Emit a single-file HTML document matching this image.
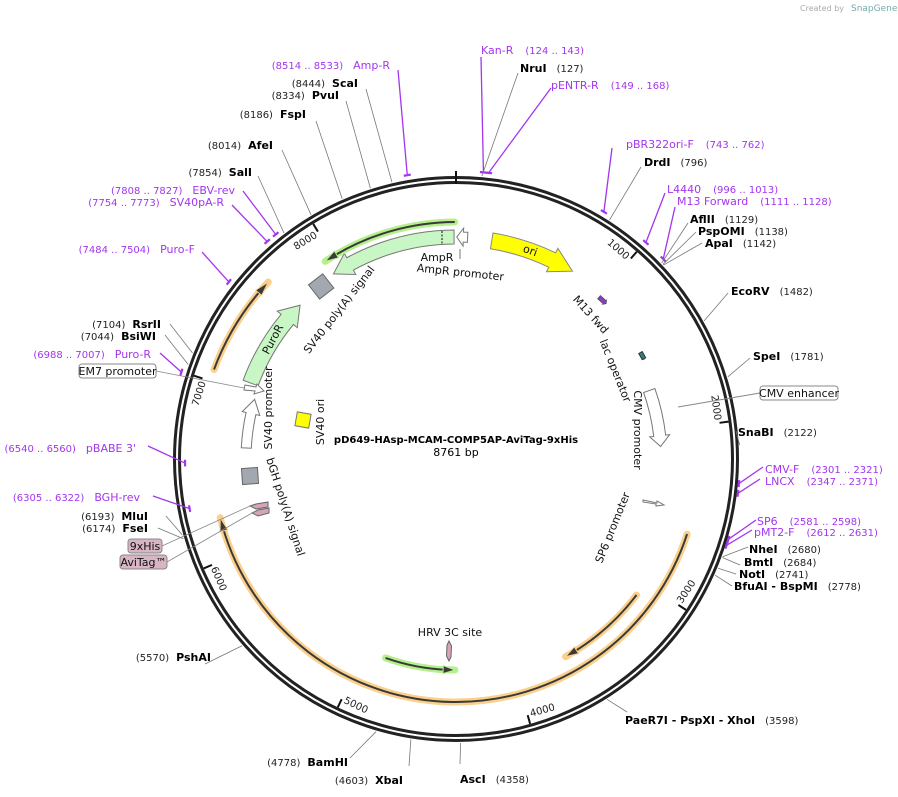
<!DOCTYPE html>
<html><head><meta charset="utf-8"><style>
body{margin:0;background:#fff}
svg{display:block;font-family:"DejaVu Sans","Liberation Sans",sans-serif}
.en{font-weight:bold;font-size:11px;fill:#000}
.nm{font-size:10px;fill:#222}
.pr{font-size:11px;fill:#a335ee}
.pn{font-size:10px;fill:#a335ee}
.ft{font-size:11px;fill:#111}
</style></head><body>
<svg id="s" width="898" height="797" viewBox="0 0 898 797" xmlns="http://www.w3.org/2000/svg">
<text x="800" y="11" font-size="8" fill="#aaa">Created by</text>
<text x="851" y="11" font-size="9" fill="#7aa">SnapGene</text>
<text x="456" y="443" text-anchor="middle" font-size="10" font-weight="bold">pD649-HAsp-MCAM-COMP5AP-AviTag-9xHis</text>
<text x="456" y="456" text-anchor="middle" font-size="11">8761 bp</text>
</svg>
<script>
var S=document.getElementById('s'),NS='http://www.w3.org/2000/svg',CX=456,CY=459;
function el(t,a,txt){var e=document.createElementNS(NS,t);for(var k in a)e.setAttribute(k,a[k]);if(txt!=null)e.textContent=txt;S.appendChild(e);return e;}
function P(d,r){var a=d*Math.PI/180;return [CX+r*Math.sin(a),CY-r*Math.cos(a)];}
function A(p){return p/8761*360;}
function arcD(d1,d2,r){var a=P(d1,r),b=P(d2,r),l=Math.abs(d2-d1)>180?1:0,sw=d2>d1?1:0;return 'M'+a[0]+' '+a[1]+' A'+r+' '+r+' 0 '+l+' '+sw+' '+b[0]+' '+b[1];}
function arcTo(d1,d2,r){var b=P(d2,r),l=Math.abs(d2-d1)>180?1:0,sw=d2>d1?1:0;return ' A'+r+' '+r+' 0 '+l+' '+sw+' '+b[0]+' '+b[1];}
function band(d1,d2,r,w,hw,hl,fill,stroke){
 var dir=d2>d1?1:-1,hb=d2-dir*hl;var a=P(d1,r+w/2);
 var d='M'+a[0]+' '+a[1]+arcTo(d1,hb,r+w/2);var h1=P(hb,r+hw/2),t=P(d2,r),h2=P(hb,r-hw/2),c=P(hb,r-w/2);
 d+=' L'+h1+' L'+t+' L'+h2+' L'+c+arcTo(hb,d1,r-w/2)+'Z';
 el('path',{d:d,fill:fill,stroke:stroke||'#777','stroke-width':1});}
function hl(d1,d2,r,glow){
 var dir=d2>d1?1:-1;el('path',{d:arcD(d1,d2,r),fill:'none',stroke:glow,'stroke-width':7,'stroke-linecap':'round'});
 el('path',{d:arcD(d1,d2-dir*2,r),fill:'none',stroke:'#3a3a3a','stroke-width':2});
 var hb=d2-dir*3.2,a=P(hb,r+4),t=P(d2,r),b=P(hb,r-4);
 el('path',{d:'M'+a+' L'+t+' L'+b+'Z',fill:'#3a3a3a',stroke:glow,'stroke-width':1});}
function rtext(x,y,rot,t,cls,anchor){el('text',{x:0,y:0,'class':cls||'ft','text-anchor':anchor||'middle',transform:'translate('+x+' '+y+') rotate('+rot+')'},t);}
el('circle',{cx:CX,cy:CY,r:281.5,fill:'none',stroke:'#222','stroke-width':3});
el('circle',{cx:CX,cy:CY,r:276.5,fill:'none',stroke:'#222','stroke-width':3});
el('line',{x1:456,y1:171,x2:456,y2:184,stroke:'#111','stroke-width':2});
[1000,2000,3000,4000,5000,6000,7000,8000].forEach(function(p){var d=A(p),a=P(d,275),b=P(d,266);el('line',{x1:a[0],y1:a[1],x2:b[0],y2:b[1],stroke:'#111','stroke-width':2});
 var rot,anc;if(d<90){rot=d;anc='end';}else if(d<270){rot=d-180;anc='start';}else{rot=d-360;anc='end';}
 var q=P(d-0.6,265);
 el('text',{x:0,y:0,dy:'0.35em','class':'nm','text-anchor':anc,transform:'translate('+q[0]+' '+q[1]+') rotate('+rot+')'},''+p);});
band(9.3,31.8,221,16,26,6,'#ffff00','#888');
rtext(529,254,20,'ori','ft');
band(-0.5,-33.5,222,14,24,5,'#c8f7c5','#777');
el('line',{x1:442,y1:231,x2:442,y2:244,stroke:'#111','stroke-width':1,'stroke-dasharray':'2,1.5'});
band(3,0.2,222,10,18,1.7,'#fff','#777');
el('line',{x1:460,y1:249,x2:460,y2:259,stroke:'#777'});
hl(-0.3,-33.5,237,'#b6f08e');
el('text',{x:437,y:261,'class':'ft','text-anchor':'middle'},'AmpR');
rtext(460,276,6,'AmpR promoter','ft');
(function(){var c=P(-38,219);el('rect',{x:-9,y:-9,width:18,height:18,fill:'#a3a8b0',stroke:'#666',transform:'translate('+c[0]+' '+c[1]+') rotate(-38)'});})();
rtext(342,312,-52,'SV40 poly(A) signal','ft');
band(-69.7,-45.4,219,16,26,5,'#c8f7c5','#777');
rtext(276,341,-62,'PuroR','ft');
hl(-69.7,-46.7,258,'#fbd08c');
el('path',{d:'M245 385 L256 387 L257 384 L264 391 L254 394 L255 391 L244 390Z',fill:'#fff',stroke:'#777'});
band(-87,-73.5,210,10,18,4,'#fff','#777');
rtext(272,408,-90,'SV40 promoter','ft');
el('rect',{x:-7,y:-7,width:14,height:14,fill:'#ffff00',stroke:'#777',transform:'translate(303 420) rotate(10)'});
rtext(324,422,-90,'SV40 ori','ft');
el('rect',{x:-8,y:-8,width:16,height:16,fill:'#a3a8b0',stroke:'#666',transform:'translate(250 476) rotate(-4)'});
rtext(282,508,72,'bGH poly(A) signal','ft');
el('path',{d:'M268 502 L256 504 L250 506 L256 509 L268 507Z',fill:'#d4a5b8',stroke:'#666'});
el('path',{d:'M269 508 L258 510 L252 513 L258 516 L269 513Z',fill:'#d4a5b8',stroke:'#666'});
hl(108,256,243,'#fbd08c');
hl(127,151,226,'#fbd08c');
hl(199.5,180.3,211,'#b6f08e');
el('path',{d:'M449 641 L451.5 646 L451 657 L449 661 L446.5 656 L447 645Z',fill:'#d4a5b8',stroke:'#666'});
el('text',{x:450,y:636,'class':'ft','text-anchor':'middle'},'HRV 3C site');
band(41.5,44,216,4,5,0.5,'#8b3ad6','#555');
rtext(588,317,48,'M13 fwd','ft');
band(60,62,213,4,4,0.1,'#2f7f7f','#333');
rtext(612,372,68,'lac operator','ft');
band(70.5,86.5,205,12,20,3,'#fff','#777');
rtext(634,430,90,'CMV promoter','ft');
el('path',{d:'M643 500 L657 503 L657 501 L664 505 L656 506 L656 504 L643 502Z',fill:'#fff',stroke:'#777'});
rtext(616,529,-68,'SP6 promoter','ft');
el('line',{x1:678,y1:407,x2:760,y2:393,stroke:'#888'});
var L=[
[A(133),288,481,57,'p',481,54,'Kan-R','(124 .. 143)','R'],
[A(127),284,518,73,'e',520,72,'NruI','(127)','R'],
[A(158),288,551,88,'p',551,89,'pENTR-R','(149 .. 168)','R'],
[A(752),288,612,148,'p',626,148,'pBR322ori-F','(743 .. 762)','R'],
[A(796),284,641,167,'e',644,166,'DrdI','(796)','R'],
[A(1004),288,665,193,'p',667,193,'L4440','(996 .. 1013)','R'],
[A(1120),288,675,207,'p',677,205,'M13 Forward','(1111 .. 1128)','R'],
[A(1129),284,688,223,'e',690,223,'AflII','(1129)','R'],
[A(1138),284,696,232,'e',698,235,'PspOMI','(1138)','R'],
[A(1142),284,702,243,'e',705,247,'ApaI','(1142)','R'],
[A(1482),284,728,293,'e',731,295,'EcoRV','(1482)','R'],
[A(1781),284,750,358,'e',753,360,'SpeI','(1781)','R'],
[A(2122),284,736,431,'e',738,436,'SnaBI','(2122)','R'],
[A(2311),284,763,467,'p',765,473,'CMV-F','(2301 .. 2321)','R'],
[A(2359),284,760,479,'p',765,485,'LNCX','(2347 .. 2371)','R'],
[A(2590),284,756,520,'p',757,525,'SP6','(2581 .. 2598)','R'],
[A(2621),284,752,530,'p',754,536,'pMT2-F','(2612 .. 2631)','R'],
[A(2680),284,748,547,'e',749,553,'NheI','(2680)','R'],
[A(2684),284,740,565,'e',744,566,'BmtI','(2684)','R'],
[A(2741),284,736,574,'e',739,578,'NotI','(2741)','R'],
[A(2778),284,732,586,'e',734,590,'BfuAI   - BspMI','(2778)','R'],
[A(3598),284,627,712,'e',625,724,'PaeR7I   - PspXI   - XhoI','(3598)','R'],
[A(4358),284,460,764,'e',460,783,'AscI','(4358)','R'],
[A(4603),284,409,766,'e',403,784,'XbaI','(4603)','L'],
[A(4778),284,350,758,'e',348,766,'BamHI','(4778)','L'],
[A(5570),284,205,664,'e',211,661,'PshAI','(5570)','L'],
[A(6174),284,158,528,'e',148,532,'FseI','(6174)','L'],
[A(6193),284,166,516,'e',148,520,'MluI','(6193)','L'],
[A(6314),271,153,496,'p',140,501,'BGH-rev','(6305 .. 6322)','L'],
[A(6550),271,148,446,'p',136,452,'pBABE 3\'','(6540 .. 6560)','L'],
[A(6998),288,160,353,'p',151,358,'Puro-R','(6988 .. 7007)','L'],
[A(7044),284,165,335,'e',156,340,'BsiWI','(7044)','L'],
[A(7104),284,170,324,'e',161,328,'RsrII','(7104)','L'],
[A(7494),288,202,252,'p',195,253,'Puro-F','(7484 .. 7504)','L'],
[A(7764),288,232,205,'p',224,206,'SV40pA-R','(7754 .. 7773)','L'],
[A(7818),288,243,191,'p',235,194,'EBV-rev','(7808 .. 7827)','L'],
[A(7854),284,258,176,'e',252,176,'SalI','(7854)','L'],
[A(8014),284,282,150,'e',273,149,'AfeI','(8014)','L'],
[A(8186),284,316,121,'e',306,118,'FspI','(8186)','L'],
[A(8334),284,346,101,'e',339,99,'PvuI','(8334)','L'],
[A(8444),284,366,89,'e',358,87,'ScaI','(8444)','L'],
[A(8524),288,398,70,'p',390,69,'Amp-R','(8514 .. 8533)','L']];
L.forEach(function(o){var p=P(o[0],o[1]),isP=o[4]=='p';
 el('line',{x1:p[0],y1:p[1],x2:o[2],y2:o[3],stroke:isP?'#a335ee':'#777','stroke-width':isP?1.3:0.8});
 if(isP){el('path',{d:arcD(o[0]-0.7,o[0]+0.7,o[1]),fill:'none',stroke:'#a335ee','stroke-width':2.2});}
 var nc=isP?'pr':'en',uc=isP?'pn':'nm';
 if(o[9]=='R'){var t=el('text',{x:o[5],y:o[6]},null);t.setAttribute('xml:space','preserve');var a=document.createElementNS(NS,'tspan');a.setAttribute('class',nc);a.textContent=o[7];t.appendChild(a);var b=document.createElementNS(NS,'tspan');b.setAttribute('class',uc);b.setAttribute('dx',isP?'12':'10');b.textContent=o[8];t.appendChild(b);}
 else{var t=el('text',{x:o[5],y:o[6],'text-anchor':'end'},null);var b=document.createElementNS(NS,'tspan');b.setAttribute('class',uc);b.textContent=o[8];t.appendChild(b);var a=document.createElementNS(NS,'tspan');a.setAttribute('class',nc);a.setAttribute('dx',isP?'10':'7');a.textContent=o[7];t.appendChild(a);}
});
function box(x,y,w,t,fill,tx,ty){el('line',{x1:x+w,y1:y+7,x2:tx,y2:ty,stroke:'#888','stroke-width':0.8});el('rect',{x:x,y:y,width:w,height:14,rx:3,fill:fill,stroke:'#888'});el('text',{x:x+w/2,y:y+11,'class':'ft','text-anchor':'middle'},t);}
box(760,386,78,'CMV enhancer','#fff',760,393);
box(79,364,77,'EM7 promoter','#fff',244,388);
box(128,539,34,'9xHis','#d8b4c4',250,506);
box(120,555,47,'AviTag™','#d8b4c4',252,513);
</script>
</body></html>
